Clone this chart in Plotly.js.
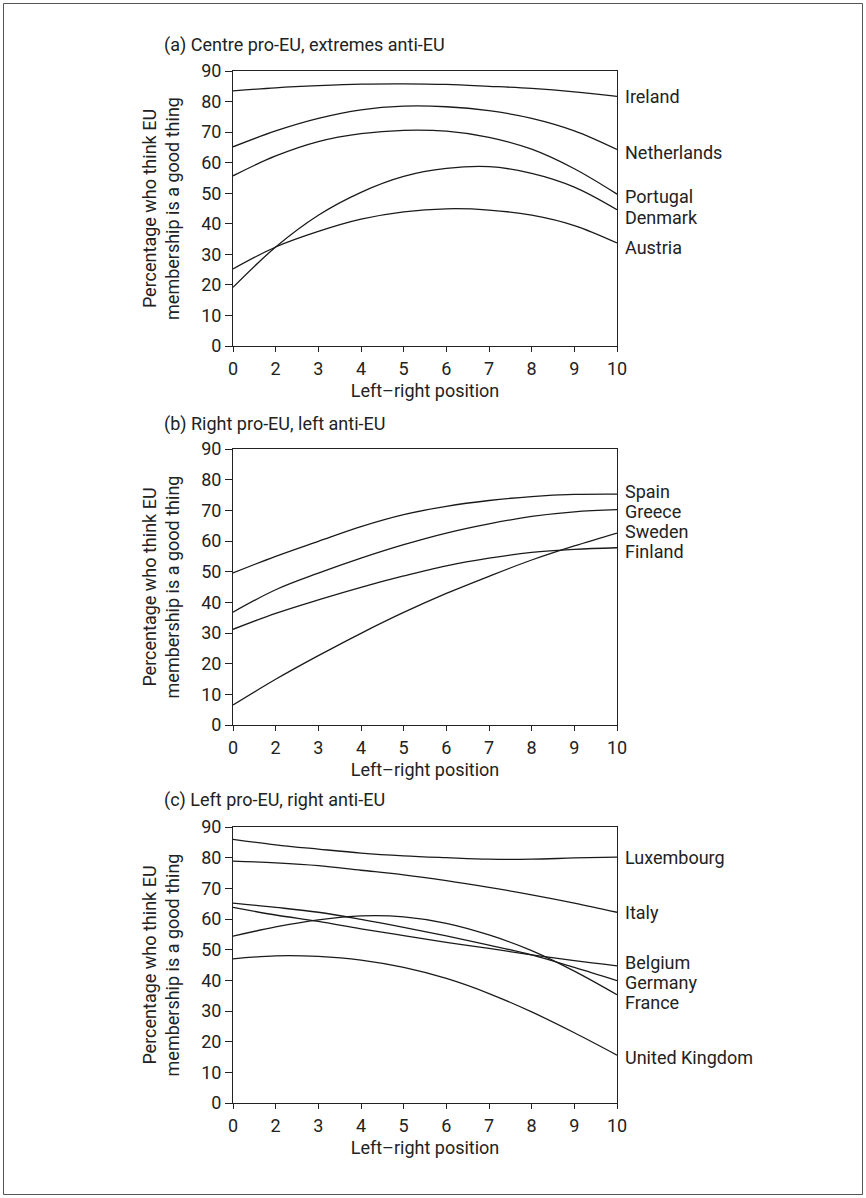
<!DOCTYPE html>
<html>
<head>
<meta charset="utf-8">
<script src="https://cdn.plot.ly/plotly-3.0.1.min.js"></script>
<style>
  html, body { margin: 0; padding: 0; background: #ffffff; }
  #chart { width: 866px; height: 1198px; }
</style>
</head>
<body>
<div id="chart"></div>
<script>
// ---------- data ----------
const xPos = [0, 1, 2, 3, 4, 5, 6, 7, 8, 9];
const xTickLabels = ['0', '2', '3', '4', '5', '6', '7', '8', '9', '10'];
const yTickVals = [0, 10, 20, 30, 40, 50, 60, 70, 80, 90];

const panelTitles = [
  '(a) Centre pro-EU, extremes anti-EU',
  '(b) Right pro-EU, left anti-EU',
  '(c) Left pro-EU, right anti-EU'
];
const xTitle = 'Left–right position';
const yTitle = 'Percentage who think EU<br>membership is a good thing';

// panel (a)
const countriesA = ['Ireland', 'Netherlands', 'Portugal', 'Denmark', 'Austria'];
const ireland     = [83.5, 84.5, 85.2, 85.7, 85.8, 85.6, 85.0, 84.3, 83.2, 81.7];
const netherlands = [65.2, 70.4, 74.5, 77.3, 78.5, 78.3, 77.0, 74.5, 70.4, 64.3];
const portugal    = [55.7, 62.2, 66.9, 69.5, 70.6, 70.3, 68.3, 64.4, 58.0, 49.7];
const denmark     = [19.2, 32.4, 42.8, 50.3, 55.5, 58.1, 58.7, 56.5, 52.0, 44.6];
const austria     = [25.2, 32.4, 37.5, 41.5, 43.9, 44.9, 44.5, 42.8, 39.4, 33.7];
const labelValuesA = [81.5, 63.2, 48.8, 42.2, 32.4];

// panel (b)
const countriesB = ['Spain', 'Greece', 'Sweden', 'Finland'];
const spain   = [49.6, 55.0, 59.9, 64.7, 68.6, 71.3, 73.2, 74.5, 75.2, 75.3];
const greece  = [36.8, 44.1, 49.5, 54.4, 58.8, 62.6, 65.6, 68.0, 69.5, 70.2];
const sweden  = [6.5, 14.9, 22.6, 29.9, 36.7, 42.9, 48.5, 53.8, 58.4, 62.6];
const finland = [31.2, 36.4, 40.8, 44.9, 48.6, 51.9, 54.4, 56.3, 57.3, 57.8];
const labelValuesB = [76.0, 69.6, 63.1, 56.6];

// panel (c)
const countriesC = ['Luxembourg', 'Italy', 'Belgium', 'Germany', 'France', 'United Kingdom'];
const luxembourg = [86.0, 84.2, 82.8, 81.5, 80.6, 80.0, 79.5, 79.5, 79.9, 80.2];
const italy      = [78.9, 78.3, 77.4, 75.9, 74.4, 72.5, 70.3, 67.9, 65.2, 62.2];
const belgium    = [63.8, 61.3, 59.2, 56.8, 54.6, 52.4, 50.4, 48.3, 46.4, 44.7];
const germany    = [65.2, 63.8, 62.2, 59.9, 57.3, 54.5, 51.5, 48.3, 44.2, 39.9];
const france     = [54.4, 57.4, 59.7, 61.0, 60.7, 58.6, 54.8, 49.7, 43.0, 35.3];
const unitedKingdom = [47.0, 48.0, 47.8, 46.6, 44.2, 40.6, 35.7, 29.7, 22.9, 15.6];
const labelValuesC = [80.2, 62.0, 45.9, 39.4, 32.9, 14.9];

// ---------- figure ----------
const FONT = 'Roboto, "Liberation Sans", Arial, sans-serif';
const INK = '#222222';
const FS = 18;
const W = 866, H = 1198;
const M = { l: 233, r: 249, t: 71, b: 95 };
const plotH = H - M.t - M.b;
const pxToPaperY = py => (H - M.b - py) / plotH;
const pxToPaperX = px => (px - M.l) / (W - M.l - M.r);

const panels = [
  { names: countriesA, series: [ireland, netherlands, portugal, denmark, austria], labels: labelValuesA,
    top: 71, bottom: 346, titleY: 45 },
  { names: countriesB, series: [spain, greece, sweden, finland], labels: labelValuesB,
    top: 449, bottom: 725, titleY: 424 },
  { names: countriesC, series: [luxembourg, italy, belgium, germany, france, unitedKingdom], labels: labelValuesC,
    top: 827, bottom: 1103, titleY: 800 }
];

const traces = [];
const annotations = [];
const layout = {
  width: W, height: H,
  margin: M,
  paper_bgcolor: '#ffffff',
  plot_bgcolor: '#ffffff',
  showlegend: false,
  font: { family: FONT, size: FS, color: INK },
  annotations: annotations,
  shapes: [{
    type: 'rect', xref: 'paper', yref: 'paper',
    x0: pxToPaperX(3.5), x1: pxToPaperX(862.5),
    y0: pxToPaperY(1194.5), y1: pxToPaperY(3.5),
    line: { color: '#555555', width: 1 }
  }]
};

panels.forEach((p, i) => {
  const n = i === 0 ? '' : String(i + 1);
  const xa = 'x' + n, ya = 'y' + n;
  p.series.forEach((vals, k) => {
    traces.push({
      type: 'scatter', mode: 'lines',
      x: xPos, y: vals, name: p.names[k],
      xaxis: xa, yaxis: ya,
      line: { color: '#1a1a1a', width: 1.3, shape: 'spline', smoothing: 1 },
      hoverinfo: 'skip'
    });
    annotations.push({
      xref: xa, yref: ya, x: xPos[xPos.length - 1], y: p.labels[k],
      text: p.names[k], showarrow: false, borderpad: 0,
      xanchor: 'left', yanchor: 'middle', xshift: 7,
      font: { family: FONT, size: FS, color: INK }
    });
  });
  annotations.push({
    xref: 'paper', yref: 'paper',
    x: pxToPaperX(163), y: pxToPaperY(p.titleY),
    text: panelTitles[i], showarrow: false, borderpad: 0,
    xanchor: 'left', yanchor: 'middle',
    font: { family: FONT, size: FS, color: INK }
  });
  layout['xaxis' + n] = {
    domain: [0, 1], anchor: ya,
    range: [0, 9], fixedrange: true,
    tickmode: 'array', tickvals: xPos, ticktext: xTickLabels,
    ticks: 'outside', ticklen: 5, tickwidth: 1, tickcolor: INK,
    ticklabelstandoff: 1,
    showline: true, mirror: true, linecolor: INK, linewidth: 1,
    showgrid: false, zeroline: false,
    tickfont: { family: FONT, size: FS, color: INK },
    title: { text: xTitle, standoff: 6, font: { family: FONT, size: FS, color: INK } }
  };
  layout['yaxis' + n] = {
    domain: [pxToPaperY(p.bottom), pxToPaperY(p.top)], anchor: xa,
    range: [0, 90], fixedrange: true,
    tickmode: 'array', tickvals: yTickVals,
    ticks: 'outside', ticklen: 7, tickwidth: 1, tickcolor: INK,
    showline: true, mirror: true, linecolor: INK, linewidth: 1,
    showgrid: false, zeroline: false,
    tickfont: { family: FONT, size: FS, color: INK },
    title: { text: yTitle, standoff: 16, font: { family: FONT, size: FS, color: INK } }
  };
});

Plotly.newPlot('chart', traces, layout, { staticPlot: true, displayModeBar: false });
</script>
</body>
</html>
